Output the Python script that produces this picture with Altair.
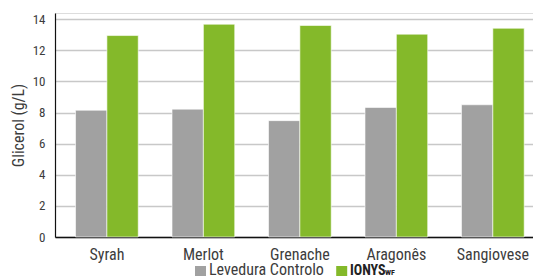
import altair as alt
import pandas as pd

categories = ["Syrah", "Merlot", "Grenache", "Aragonês", "Sangiovese"]
series = ["Levedura Controlo", "IONYS"]
controlo = [8.15, 8.22, 7.48, 8.33, 8.50]
ionys = [12.95, 13.68, 13.60, 13.04, 13.42]
y_ticks = [0, 2, 4, 6, 8, 10, 12, 14]
colors = ["#a1a1a1", "#84b92a"]

rows = []
for i, c in enumerate(categories):
    rows.append({"cat": c, "serie": series[0], "v": controlo[i]})
    rows.append({"cat": c, "serie": series[1], "v": ionys[i]})
df = pd.DataFrame(rows)

FONT = "Roboto Condensed"
TXT = "#3c3c3c"

bars = alt.Chart(df).mark_bar(stroke="white", strokeWidth=0.6).encode(
    x=alt.X("cat:N", sort=categories, title=None,
            scale=alt.Scale(paddingInner=0.35, paddingOuter=0.152, align=0.7),
            axis=alt.Axis(labelAngle=0, labelFontSize=16, labelFont=FONT,
                          labelColor=TXT, ticks=False, labelPadding=22,
                          labelBaseline="alphabetic",
                          domainColor="#111111", domainWidth=1.5, grid=False)),
    xOffset=alt.XOffset("serie:N", sort=series),
    y=alt.Y("v:Q", title="Glicerol (g/L)",
            scale=alt.Scale(domain=[0, 14.4], nice=False),
            axis=alt.Axis(values=y_ticks, labelFontSize=13, labelFont=FONT,
                          labelColor=TXT, ticks=False, labelPadding=10,
                          titleFont=FONT, titleFontSize=16, titleFontWeight="normal",
                          titleColor=TXT, titlePadding=6,
                          domainColor="#111111", domainWidth=1.2,
                          gridColor="#c8c8c8", gridWidth=1.6)),
    color=alt.Color("serie:N", sort=series,
                    scale=alt.Scale(domain=series, range=colors), legend=None),
)

leg_df = pd.DataFrame({"k": series})
leg_sq = alt.Chart(leg_df).mark_square(size=121, opacity=1).encode(
    x=alt.X("k:N", scale=alt.Scale(type="point", domain=series, range=[145.5, 286.7], padding=0), axis=None),
    y=alt.value(258.5),
    color=alt.Color("k:N", scale=alt.Scale(domain=series, range=colors), legend=None),
)
leg_t1 = alt.Chart(pd.DataFrame({"t": [series[0]]})).mark_text(
    align="left", baseline="alphabetic", font=FONT, fontSize=16, color=TXT
).encode(text="t:N", x=alt.value(154), y=alt.value(262))
leg_t2 = alt.Chart(pd.DataFrame({"t": [series[1]]})).mark_text(
    align="left", baseline="alphabetic", font=FONT, fontSize=14, fontWeight="bold", color="#222222"
).encode(text="t:N", x=alt.value(295), y=alt.value(262))
leg_t3 = alt.Chart(pd.DataFrame({"t": ["WF"]})).mark_text(
    align="left", baseline="alphabetic", font=FONT, fontSize=8, fontWeight="bold", color="#222222"
).encode(text="t:N", x=alt.value(330), y=alt.value(262))

chart = alt.layer(bars, leg_sq, leg_t1, leg_t2, leg_t3).resolve_scale(
    x="independent", color="independent"
).properties(
    width=478, height=224,
    autosize=alt.AutoSizeParams(type="none"),
    padding={"left": 47, "top": 5, "right": 0, "bottom": 40},
).configure_view(stroke=None).configure(background="white")

chart.save("out.html", embed_options={"renderer": "svg", "actions": False})
